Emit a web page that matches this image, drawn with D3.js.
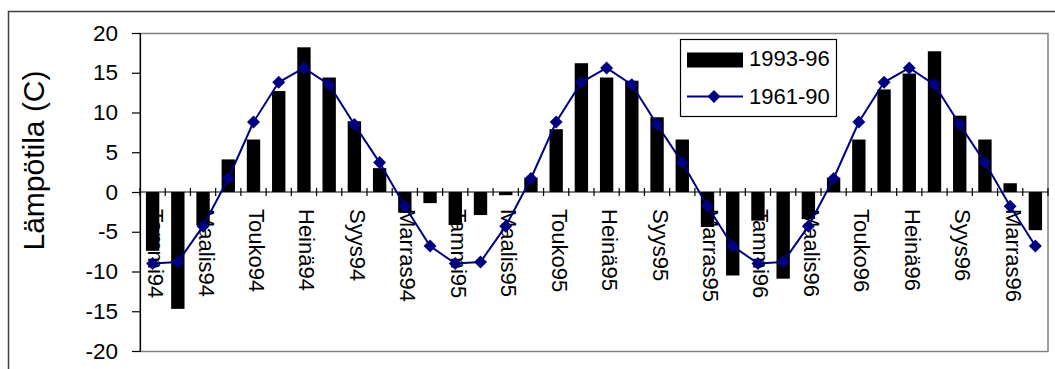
<!DOCTYPE html>
<html>
<head>
<meta charset="utf-8">
<script src="https://cdn.jsdelivr.net/npm/d3@7"></script>
<style>
  html, body { margin: 0; padding: 0; background: #fff; }
  svg { display: block; font-family: "Liberation Sans", Arial, sans-serif; }
</style>
</head>
<body>
<svg id="chart" width="1055" height="369"></svg>
<script>
// Monthly mean temperatures, January 1994 – December 1996
const monthNames = ["Tammi", "Helmi", "Maalis", "Huhti", "Touko", "Kesä",
                    "Heinä", "Elo", "Syys", "Loka", "Marras", "Joulu"];
const years = ["94", "95", "96"];
const categories = years.flatMap(y => monthNames.map(m => m + y));

// Observed monthly means 1993-96
const observed = [
  -7.4, -14.7, -4.2, 4.1, 6.6, 12.7, 18.2, 14.4, 8.9, 3.0, -2.6, -1.4,
  -4.15, -2.9, -0.4, 1.8, 7.9, 16.2, 14.4, 14.0, 9.4, 6.6, -4.4, -10.5,
  -3.6, -10.9, -3.4, 1.8, 6.6, 12.9, 14.9, 17.7, 9.6, 6.6, 1.1, -4.8
];

// Climatological normals 1961-90 (one year, repeated for each year)
const normalYear = [-9.0, -8.8, -4.3, 1.7, 8.8, 13.8, 15.6, 13.5, 8.5, 3.7, -1.8, -6.8];
const normals = years.flatMap(() => normalYear);

const yTicks = [20, 15, 10, 5, 0, -5, -10, -15, -20];
const seriesNames = ["1993-96", "1961-90"];

const svg = d3.select("#chart");
const plot = { left: 140, right: 1048, top: 33, bottom: 351 };
const font = "Liberation Sans, Arial, sans-serif";

const x = d3.scaleBand()
  .domain(categories)
  .range([plot.left, plot.right])
  .paddingInner(0.47)
  .paddingOuter(0.235);
const xCenter = c => x(c) + x.bandwidth() / 2;

const y = d3.scaleLinear().domain([-20, 20]).range([plot.bottom, plot.top]);

// Outer chart frame
svg.append("rect")
  .attr("x", 8.5).attr("y", 11.5)
  .attr("width", 1100).attr("height", 500)
  .attr("fill", "none").attr("stroke", "#404040").attr("stroke-width", 1.5);

// Plot area border
svg.append("rect")
  .attr("x", plot.left).attr("y", plot.top + 0.5)
  .attr("width", plot.right - plot.left).attr("height", plot.bottom - plot.top)
  .attr("fill", "none").attr("stroke", "#808080").attr("stroke-width", 1.5);

// Value axis
const yAxis = d3.axisLeft(y).tickValues(yTicks).tickSize(8).tickPadding(14)
  .tickFormat(d => String(d));
const gy = svg.append("g").attr("transform", `translate(${plot.left},0)`).call(yAxis);
gy.select(".domain").attr("stroke", "#000").attr("stroke-width", 1.2);
gy.selectAll(".tick line").attr("stroke", "#000").attr("stroke-width", 1.2);
gy.selectAll(".tick text")
  .attr("font-size", 22.5).attr("fill", "#000")
  .attr("font-family", font);

// Axis title
svg.append("text")
  .attr("transform", `translate(43.5,160.5) rotate(-90)`)
  .attr("text-anchor", "middle")
  .attr("font-size", 30)
  .attr("font-family", font)
  .text("Lämpötila (C)");

// Category labels (every second month), drawn beneath the series
const labelCats = categories.filter((d, i) => i % 2 === 0);
const xAxis = d3.axisBottom(x).tickValues(labelCats).tickSize(0).tickPadding(0);
const gx = svg.append("g").attr("transform", `translate(0,${y(0)})`).call(xAxis);
gx.select(".domain").remove();
gx.selectAll(".tick text")
  .attr("font-size", 22).attr("fill", "#000")
  .attr("font-family", font)
  .attr("text-anchor", "start")
  .attr("dy", null)
  .attr("y", 0)
  .attr("transform", "translate(-4.5,17) rotate(90)");

// Bars
svg.append("g").selectAll("rect")
  .data(observed)
  .join("rect")
  .attr("x", (d, i) => x(categories[i]))
  .attr("width", x.bandwidth())
  .attr("y", d => y(Math.max(0, d)))
  .attr("height", d => Math.abs(y(d) - y(0)))
  .attr("fill", "#000");

// Category axis at zero with tick marks on category boundaries
const boundaries = d3.range(categories.length + 1);
const xb = d3.scaleLinear().domain([0, categories.length]).range([plot.left, plot.right]);
svg.append("line")
  .attr("x1", plot.left).attr("x2", plot.right)
  .attr("y1", y(0)).attr("y2", y(0))
  .attr("stroke", "#000").attr("stroke-width", 1.2);
svg.append("g").selectAll("line")
  .data(boundaries)
  .join("line")
  .attr("x1", d => xb(d)).attr("x2", d => xb(d))
  .attr("y1", y(0) - 4).attr("y2", y(0) + 4)
  .attr("stroke", "#000").attr("stroke-width", 1.2);

// Normal line with diamond markers
const navy = "#000080";
const marker = d3.symbol().type(d3.symbolSquare).size(84);
const line = d3.line().x((d, i) => xCenter(categories[i])).y(d => y(d));
svg.append("path")
  .datum(normals)
  .attr("d", line)
  .attr("fill", "none").attr("stroke", navy).attr("stroke-width", 2);

svg.append("g").selectAll("path")
  .data(normals)
  .join("path")
  .attr("transform", (d, i) => `translate(${xCenter(categories[i])},${y(d)}) rotate(45)`)
  .attr("d", marker)
  .attr("fill", navy);

// Legend
const lg = svg.append("g");
lg.append("rect")
  .attr("x", 680.5).attr("y", 39.5).attr("width", 156).attr("height", 77)
  .attr("fill", "#fff").attr("stroke", "#000").attr("stroke-width", 1.2);
lg.append("rect")
  .attr("x", 687).attr("y", 52.5).attr("width", 56).attr("height", 15)
  .attr("fill", "#000");
lg.append("line")
  .attr("x1", 687).attr("x2", 743).attr("y1", 96.5).attr("y2", 96.5)
  .attr("stroke", navy).attr("stroke-width", 2);
lg.append("path")
  .attr("transform", "translate(714,96.5) rotate(45)")
  .attr("d", marker)
  .attr("fill", navy);
lg.selectAll("text")
  .data(seriesNames)
  .join("text")
  .attr("x", 749)
  .attr("y", (d, i) => i === 0 ? 58 : 96)
  .attr("dy", "0.36em")
  .attr("font-size", 22)
  .attr("font-family", font)
  .text(d => d);
</script>
</body>
</html>
